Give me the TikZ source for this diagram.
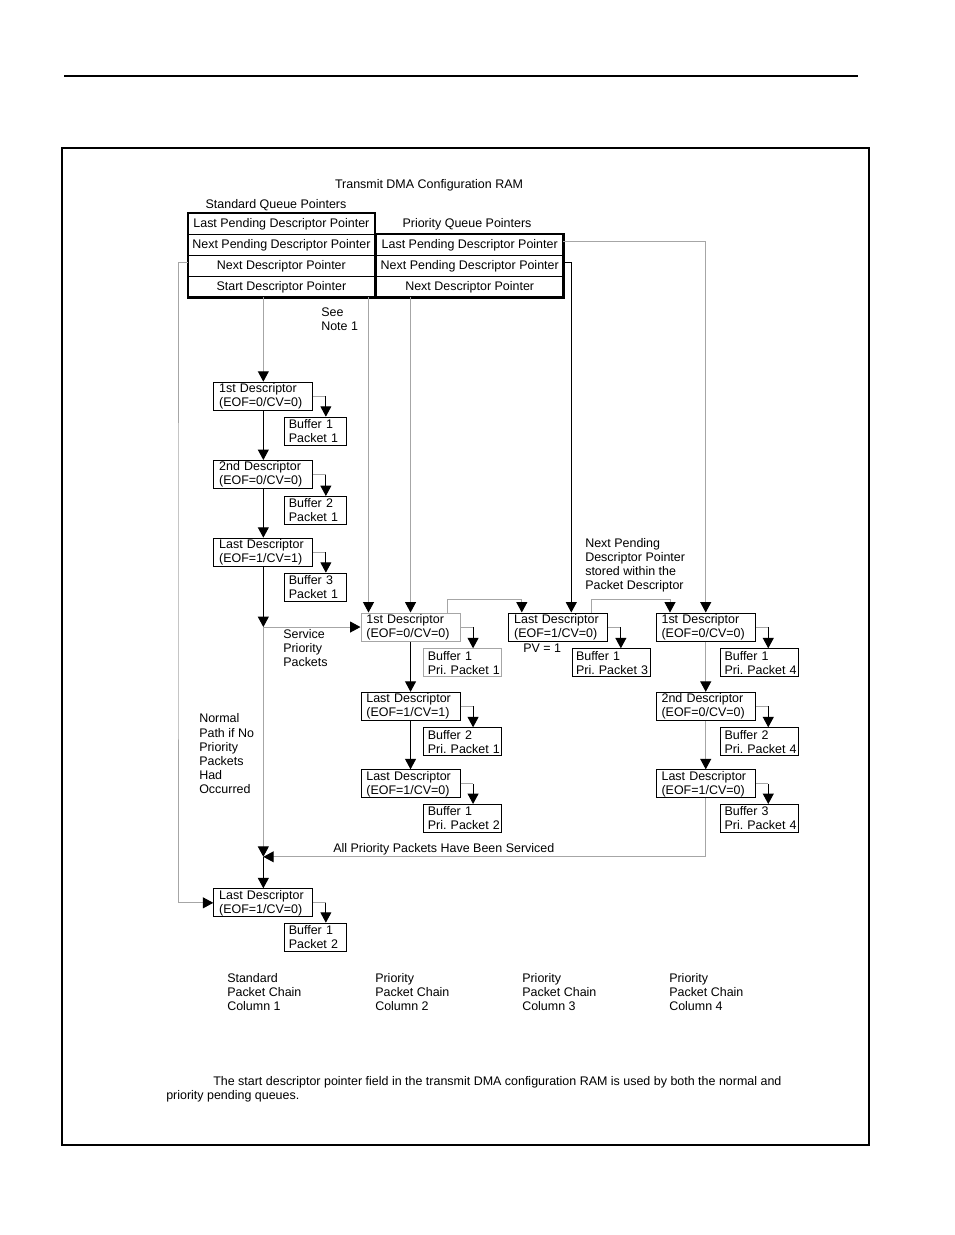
\documentclass[tikz,border=0pt]{standalone}
\usepackage{fontspec}
\setmainfont{Liberation Sans}
\usetikzlibrary{arrows.meta,calc}
\newcommand\fsz{\fontsize{9.35}{10.5}\selectfont}
\tikzset{
  tip/.style={-{Triangle[width=8.2pt,length=7.8pt,color=black]}},
  bline/.style={line width=0.8pt, black},
  gline/.style={line width=0.75pt, black!35},
  lbl/.style={inner sep=0pt, anchor=west, align=left, font=\fsz},
  desc/.style={draw, line width=0.8pt, anchor=north west, minimum height=21pt,
    text width=66.25pt, inner xsep=4pt, inner ysep=0pt, align=left, font=\fsz},
  buf/.style={desc, inner xsep=3pt, text width=40.5pt},
  pbuf/.style={desc, inner xsep=3pt, text width=52.5pt},
  grayframe/.style={draw=black!35},
  row/.style={draw, line width=0.6pt, anchor=north west, minimum width=139.5pt,
    minimum height=15.675pt, inner sep=0pt, font=\fsz, text depth=0.6pt},
  prow/.style={row, minimum width=140pt},
}
\begin{document}
\begin{tikzpicture}[x=0.75pt,y=-0.75pt]
\fill[white] (0,0) rectangle (954,1235);
\useasboundingbox (0,0) rectangle (954,1235);
% page rule and frame
\draw[line width=1.5pt] (64,76) -- (858,76);
\draw[line width=1.1pt] (62,148) rectangle (869,1145);

% titles
\node[font=\fsz, inner sep=0pt] (title) at (429,185) {Transmit DMA Configuration RAM};
\node[font=\fsz, inner sep=0pt] (sqp) at (276,205) {Standard Queue Pointers};
\node[font=\fsz, inner sep=0pt] (pqp) at (467,224) {Priority Queue Pointers};

% standard queue pointer table
\node[row] (s1) at (188,213) {Last Pending Descriptor Pointer};
\node[row] (s2) at (188,233.9) {Next Pending Descriptor Pointer};
\node[row] (s3) at (188,254.8) {Next Descriptor Pointer};
\node[row] (s4) at (188,275.7) {Start Descriptor Pointer};
\draw[line width=1.7pt] (s1.north west) rectangle (s4.south east);
% priority queue pointer table
\node[prow] (p1) at (376,233.9) {Last Pending Descriptor Pointer};
\node[prow] (p2) at (376,254.8) {Next Pending Descriptor Pointer};
\node[prow] (p3) at (376,275.7) {Next Descriptor Pointer};
\draw[line width=1.7pt] (p1.north west) rectangle (p3.south east);

\node[lbl] (seenote) at (321,319) {See\\Note 1};

% column 1
\node[desc] (c1d1) at (213.3,381.7) {1st Descriptor\\(EOF=0/CV=0)};
\node[buf]  (c1b1) at (284.3,416.7) {Buffer 1\\Packet 1};
\node[desc] (c1d2) at (213.3,460) {2nd Descriptor\\(EOF=0/CV=0)};
\node[buf]  (c1b2) at (284.3,496) {Buffer 2\\Packet 1};
\node[desc] (c1d3) at (213.3,537.7) {Last Descriptor\\(EOF=1/CV=1)};
\node[buf]  (c1b3) at (284.3,572.7) {Buffer 3\\Packet 1};
\node[desc] (c1d4) at (213.3,888.3) {Last Descriptor\\(EOF=1/CV=0)};
\node[buf]  (c1b4) at (284.3,922.7) {Buffer 1\\Packet 2};

% column 2
\node[desc,grayframe] (c2d1) at (360.5,612.5) {1st Descriptor\\(EOF=0/CV=0)};
\node[pbuf,grayframe] (c2b1) at (423.3,648.3) {Buffer 1\\Pri.~Packet~1};
\node[desc] (c2d2) at (360.5,691.8) {Last Descriptor\\(EOF=1/CV=1)};
\node[pbuf] (c2b2) at (423.3,727.3) {Buffer 2\\Pri.~Packet~1};
\node[desc] (c2d3) at (360.5,769.3) {Last Descriptor\\(EOF=1/CV=0)};
\node[pbuf] (c2b3) at (423.3,804) {Buffer 1\\Pri.~Packet~2};

% column 3
\node[desc] (c3d1) at (508.3,612.5) {Last Descriptor\\(EOF=1/CV=0)};
\node[pbuf] (c3b1) at (571.5,648.3) {Buffer 1\\Pri.~Packet~3};
\node[lbl] (pv) at (523,648.5) {PV = 1};

% column 4
\node[desc] (c4d1) at (655.7,612.5) {1st Descriptor\\(EOF=0/CV=0)};
\node[pbuf] (c4b1) at (720,648.3) {Buffer 1\\Pri.~Packet~4};
\node[desc] (c4d2) at (655.7,691.8) {2nd Descriptor\\(EOF=0/CV=0)};
\node[pbuf] (c4b2) at (720,727.3) {Buffer 2\\Pri.~Packet~4};
\node[desc] (c4d3) at (655.7,769.3) {Last Descriptor\\(EOF=1/CV=0)};
\node[pbuf] (c4b3) at (720,804) {Buffer 3\\Pri.~Packet~4};

% free labels
\node[lbl] (npd) at (585,565) {Next Pending\\Descriptor Pointer\\stored within the\\Packet Descriptor};
\node[lbl] (spp) at (283,648.5) {Service\\Priority\\Packets};
\node[lbl, font=\fontsize{9.35}{10.65}\selectfont] (normal) at (199,754) {Normal\\Path if No\\Priority\\Packets\\Had\\Occurred};
\node[lbl] (allpri) at (333,849) {All Priority Packets Have Been Serviced};

\node[lbl] (col1) at (227,992.5) {Standard\\Packet Chain\\Column 1};
\node[lbl] (col2) at (375,992.5) {Priority\\Packet Chain\\Column 2};
\node[lbl] (col3) at (522,992.5) {Priority\\Packet Chain\\Column 3};
\node[lbl] (col4) at (669,992.5) {Priority\\Packet Chain\\Column 4};

\node[lbl] (note) at (166,1089) {\hspace*{35.25pt}The start descriptor pointer field in the transmit DMA configuration RAM is used by both the normal and\\priority pending queues.};

% connectors from pointer tables
\coordinate (L) at (178,580);
\draw[gline,tip] ([yshift=2.4pt]s3.west) -| (L) |- (c1d4.west);
\draw[gline,tip] (s4.south -| c1d1.north) -- (c1d1.north);
\coordinate (c2in1) at ($(c2d1.north west)+(8,0)$);
\draw[gline,tip] (s4.south -| c2in1) -- (c2in1);
\draw[gline,tip] (p3.south -| c2d1.north) -- (c2d1.north);
\coordinate (c3in2) at ($(c3d1.north west)+(63,0)$);
\draw[bline,tip] ([yshift=2.4pt]p2.east) -| (c3in2);
\draw[gline,tip] ([yshift=2.6pt]p1.east) -| (c4d1.north);

% links between priority chains
\coordinate (c2out) at ($(c2d1.north west)+(86.5,0)$);
\coordinate (c3in1) at ($(c3d1.north west)+(13.5,0)$);
\draw[gline,tip] (c2out) -- ++(0,-13.5) -| (c3in1);
\coordinate (c3out) at ($(c3d1.north west)+(83.5,0)$);
\coordinate (c4in1) at ($(c4d1.north west)+(14.3,0)$);
\draw[gline,tip] (c3out) -- ++(0,-13) -| (c4in1);

% column 1 chain
\draw[bline,tip] (c1d1.south) -- (c1d2.north);
\draw[bline,tip] (c1d2.south) -- (c1d3.north);
\coordinate (J1) at (c1d3.south |- c2d1.west);
\coordinate (J2) at ($(c1d4.north)+(0,-31.5)$);
\draw[bline,tip] (c1d3.south) -- (J1);
\draw[gline,tip] (J1) -- (c2d1.west);
\draw[gline,tip] (J1) -- (J2);
\draw[bline,tip] (J2) -- (c1d4.north);
\draw[gline,tip] (c4d3.south) |- (J2);

% column 2 and 4 chains
\draw[bline,tip] (c2d1.south) -- (c2d2.north);
\draw[bline,tip] (c2d2.south) -- (c2d3.north);
\draw[gline,tip] (c4d1.south) -- (c4d2.north);
\draw[gline,tip] (c4d2.south) -- (c4d3.north);

% descriptor to buffer links
\foreach \d/\b in {c1d1/c1b1,c1d2/c1b2,c1d3/c1b3,c1d4/c1b4,c2d1/c2b1,c2d2/c2b2,c2d3/c2b3,c3d1/c3b1,c4d1/c4b1,c4d2/c4b2,c4d3/c4b3}{
  \draw[gline] (\d.east) -- ++(12.5,0) coordinate (t);
  \draw[bline,tip] (t) -- (t |- \b.north);
}
\end{tikzpicture}
\end{document}
